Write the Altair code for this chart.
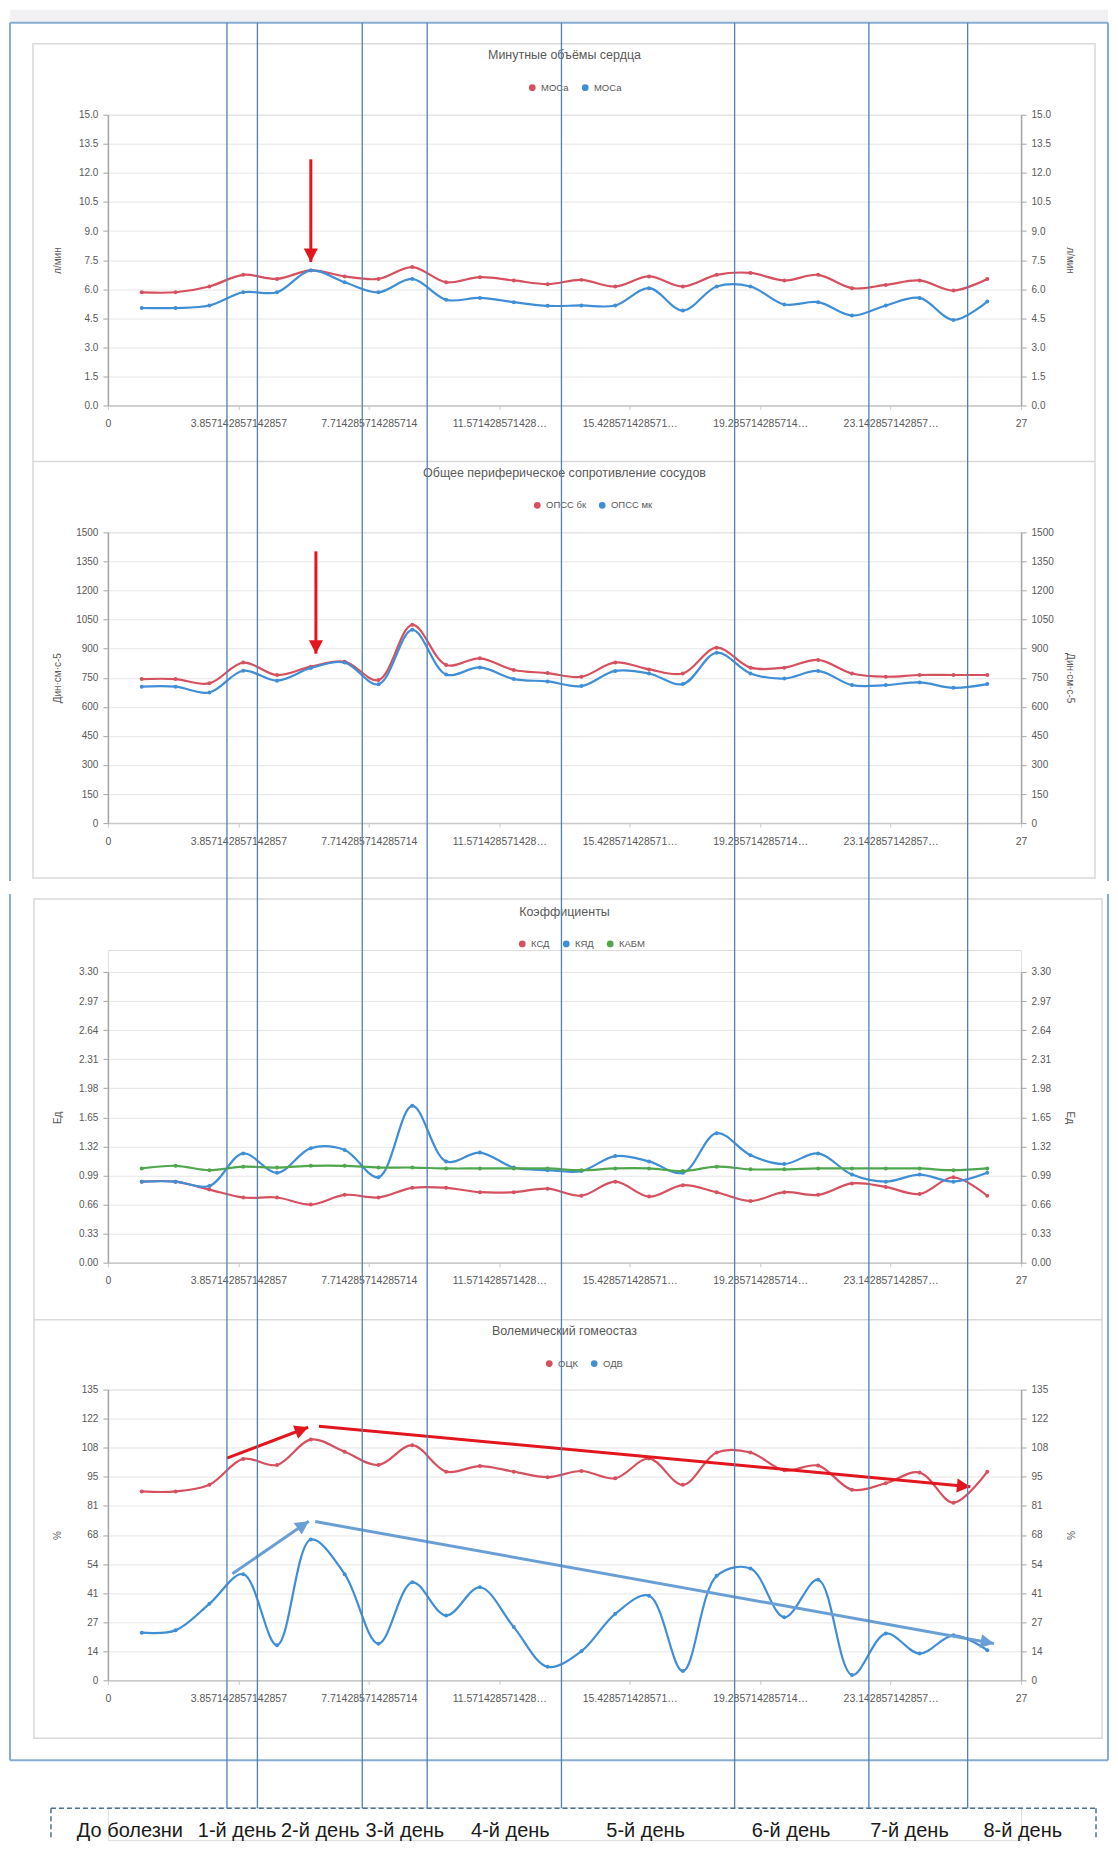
import math
import altair as alt
import pandas as pd

# ------------------------------------------------------------------ data
days = list(range(1, 27))

mos_names = ["МОСа#1", "МОСа#2"]
mos_1 = [5.84, 5.84, 6.14, 6.74, 6.53, 6.97, 6.66, 6.53, 7.14, 6.36, 6.62, 6.45, 6.26,
         6.48, 6.14, 6.66, 6.14, 6.74, 6.84, 6.45, 6.74, 6.05, 6.22, 6.45, 5.93, 6.53]
mos_2 = [5.03, 5.03, 5.16, 5.84, 5.84, 6.97, 6.36, 5.84, 6.53, 5.45, 5.55, 5.33, 5.14,
         5.16, 5.16, 6.05, 4.90, 6.14, 6.14, 5.21, 5.33, 4.64, 5.16, 5.55, 4.41, 5.36]

opss_names = ["ОПСС бк", "ОПСС мк"]
opss_bk = [743, 743, 721, 828, 764, 807, 833, 738, 1023, 816, 850, 790, 774,
           755, 829, 793, 772, 905, 802, 802, 842, 772, 755, 764, 764, 764]
opss_mk = [704, 704, 674, 786, 735, 800, 828, 716, 997, 767, 803, 743, 731,
           707, 785, 772, 717, 879, 772, 746, 785, 712, 712, 726, 698, 717]

k_names = ["КСД", "КЯД", "КАБМ"]
ksd = [0.92, 0.92, 0.83, 0.74, 0.74, 0.66, 0.77, 0.74, 0.85, 0.85, 0.80, 0.80, 0.84,
       0.76, 0.92, 0.75, 0.88, 0.80, 0.70, 0.80, 0.77, 0.90, 0.86, 0.78, 0.97, 0.76]
kyad = [0.92, 0.92, 0.87, 1.24, 1.02, 1.30, 1.28, 0.97, 1.78, 1.15, 1.25, 1.08, 1.05,
        1.04, 1.21, 1.15, 1.02, 1.47, 1.22, 1.12, 1.24, 1.00, 0.92, 1.00, 0.92, 1.02]
kabm = [1.07, 1.10, 1.05, 1.09, 1.08, 1.10, 1.10, 1.08, 1.08, 1.07, 1.07, 1.07, 1.07,
        1.05, 1.07, 1.07, 1.04, 1.09, 1.06, 1.06, 1.07, 1.07, 1.07, 1.07, 1.05, 1.07]

v_names = ["ОЦК", "ОДВ"]
ock = [87.7, 87.7, 90.8, 102.8, 100.0, 111.8, 106.1, 100.0, 109.2, 96.9, 99.5, 96.9, 94.3,
       97.2, 93.8, 103.0, 90.8, 105.8, 105.8, 97.5, 99.7, 88.5, 91.5, 96.5, 82.5, 96.9]
odv = [22.1, 23.2, 35.5, 49.3, 16.3, 65.4, 49.3, 17.0, 45.5, 30.1, 43.2, 24.7, 6.3,
       13.5, 30.9, 39.3, 4.3, 48.5, 51.9, 29.3, 46.7, 2.5, 21.7, 12.4, 20.9, 14.0]

x_tick_values = [i * 27 / 7 for i in range(8)]
x_tick_labels = ["0", "3.857142857142857", "7.714285714285714", "11.571428571428…",
                 "15.428571428571…", "19.285714285714…", "23.142857142857…", "27"]
y_ticks_mos = [round(1.5 * i, 1) for i in range(11)]
y_ticks_opss = [150 * i for i in range(11)]
y_ticks_k = [round(0.33 * i, 2) for i in range(11)]
y_ticks_v = [13.5 * i for i in range(11)]

# annotation arrows (data units)
arrow_mos = {"x0": [6.0], "y0": [12.7], "x1": [6.0], "y1": [7.4]}
arrow_opss = {"x0": [6.15], "y0": [1402], "x1": [6.15], "y1": [874]}
arrow_v_red = {"x0": [3.52, 6.24], "y0": [103.2, 118.0], "x1": [5.92, 25.5], "y1": [117.5, 89.9]}
arrow_v_blue = {"x0": [3.68, 6.13], "y0": [49.5, 73.7], "x1": [5.94, 26.2], "y1": [73.9, 17.1]}

day_marks_x = [3.52, 4.42, 7.52, 9.44, 13.41, 18.53, 22.50, 25.42]
day_labels = ["До болезни", "1-й день", "2-й день", "3-й день", "4-й день",
              "5-й день", "6-й день", "7-й день", "8-й день"]
day_label_x = [0.65, 3.82, 6.28, 8.78, 11.9, 15.9, 20.2, 23.7, 27.05]

# ------------------------------------------------------------------ style / layout
FONT = "Liberation Sans"
TXT = "#595959"
AX = "#a6a6a6"
GRID = "#e6e6e6"
RED = "#d6505f"
BLUE = "#3f8ed6"
GREEN = "#4fa64d"
ARROW_RED = "#e3161e"
ARROW_BLUE = "#6a9fd6"
VLINE = "#4f81b5"
FRAME = "#86acd3"
CARD = "#d9d9d9"
DASH = "#4d6f94"

W = 914
H = 291
H3 = 313
P3_TOP = 22
SP = 127
PLOT_LEFT = 107
T1 = 113
T2 = T1 + H + SP
T3 = T2 + H + SP
T4 = T3 + H3 + SP
T5 = T4 + H + SP
H5 = 33
TITLE_OFF = 8

ARROW_PATH = "M0,0L-1,-1.9L1,-1.9Z"
x_scale = alt.Scale(domain=[0, 27], nice=False, zero=False)
label_expr = "[" + ",".join("'" + s + "'" for s in x_tick_labels) + "][round(datum.value * 7 / 27)]"


def long_df(names, series):
    rows = []
    for n, s in zip(names, series):
        for d, v in zip(days, s):
            rows.append({"x": d, "v": v, "series": n})
    return pd.DataFrame(rows)


def x_axis():
    return alt.Axis(values=x_tick_values, labelExpr=label_expr, grid=False,
                    domainColor="#c9c9c9", tickColor="#c9c9c9", tickSize=4, domainWidth=1.5,
                    labelPadding=9, labelFontSize=10.5, labelColor=TXT, labelFont=FONT,
                    labelLimit=400, labelOverlap=False, labelFlush=False, title=None)


def y_axis(orient, values, fmt, title, mid):
    kw = dict(orient=orient, values=values, format=fmt, domainColor=AX, tickColor=AX,
              tickSize=5, domainWidth=1.5, labelPadding=5, labelFontSize=10, labelColor=TXT,
              labelFont=FONT, title=title, titleFont=FONT, titleFontSize=10,
              titleFontWeight="normal", titleColor=TXT, titleY=mid, titleBaseline="middle")
    if orient == "left":
        kw.update(grid=True, gridColor=GRID, titleX=-50, titleAngle=270)
    else:
        kw.update(grid=False, titleX=48, titleAngle=90)
    return alt.Axis(**kw)


def arrow_layers(spec, ysc, color, ppy, size=200):
    d = pd.DataFrame(spec)
    ppx = W / 27
    d["ang"] = [round(math.degrees(math.atan2(-(b - a) * ppx, (c - e) * ppy)) % 360, 2)
                for a, b, e, c in zip(d["x0"], d["x1"], d["y1"], d["y0"])]
    rule = alt.Chart(d).mark_rule(color=color, strokeWidth=3).encode(
        x=alt.X("x0:Q", scale=x_scale, axis=x_axis()), x2="x1:Q",
        y=alt.Y("y0:Q", scale=ysc, axis=None), y2="y1:Q")
    head = alt.Chart(d).mark_point(shape=ARROW_PATH, filled=True, size=size, color=color,
                                   opacity=1, strokeWidth=0).encode(
        x=alt.X("x1:Q", scale=x_scale, axis=x_axis()),
        y=alt.Y("y1:Q", scale=ysc, axis=None),
        angle=alt.Angle("ang:Q", scale=None))
    return [rule, head]


def panel(names, series, colors, domain, yvals, yfmt, ytitle, title, lx, ly, h,
          yrange=None, legend_expr=None, arrows=()):
    df = long_df(names, series)
    skw = dict(domain=domain, nice=False, zero=False)
    if yrange:
        skw["range"] = yrange
        mid = (yrange[0] + yrange[1]) / 2
        span = yrange[0] - yrange[1]
    else:
        mid = h / 2
        span = h
    ppy = span / (domain[1] - domain[0])
    ysc = alt.Scale(**skw)
    lkw = dict(orient="none", legendX=lx, legendY=ly, direction="horizontal", title=None,
               symbolType="circle", symbolSize=14, symbolStrokeWidth=3, labelFontSize=9.5,
               labelFont=FONT, labelColor=TXT, columnPadding=7)
    if legend_expr:
        lkw["labelExpr"] = legend_expr
    cscale = alt.Scale(domain=names, range=colors)
    lines = alt.Chart(df).mark_line(interpolate="catmull-rom", strokeWidth=2.2).encode(
        x=alt.X("x:Q", scale=x_scale, axis=x_axis()),
        y=alt.Y("v:Q", scale=ysc, axis=y_axis("left", yvals, yfmt, ytitle, mid)),
        color=alt.Color("series:N", scale=cscale, legend=alt.Legend(**lkw)))
    pts = alt.Chart(df).mark_point(filled=True, size=16, opacity=1).encode(
        x=alt.X("x:Q", scale=x_scale, axis=x_axis()),
        y=alt.Y("v:Q", scale=ysc, axis=None),
        color=alt.Color("series:N", scale=cscale, legend=alt.Legend(**lkw)))
    extra = []
    for spec, col in arrows:
        extra += arrow_layers(spec, ysc, col, ppy)
    right = alt.Chart(df).mark_line(opacity=0).encode(
        x=alt.X("x:Q", scale=x_scale, axis=x_axis()),
        y=alt.Y("v:Q", scale=ysc, axis=y_axis("right", yvals, yfmt, ytitle, mid)),
        detail="series:N")
    return alt.layer(lines, pts, *extra, right).resolve_scale(y="independent").properties(
        width=W, height=h,
        title=alt.TitleParams(text=title, fontSize=12.5, fontWeight="normal", color=TXT,
                              font=FONT, anchor="middle", frame="group", offset=TITLE_OFF,
                              baseline="bottom"))


p1 = panel(mos_names, [mos_1, mos_2], [RED, BLUE], [0, 15], y_ticks_mos, ".1f", "л/мин",
           "Минутные объёмы сердца", 420, -32, H,
           legend_expr="split(datum.label, '#')[0]", arrows=[(arrow_mos, ARROW_RED)])
p2 = panel(opss_names, [opss_bk, opss_mk], [RED, BLUE], [0, 1500], y_ticks_opss, "d",
           "Дин·см·с-5", "Общее периферическое сопротивление сосудов", 425, -32, H,
           arrows=[(arrow_opss, ARROW_RED)])
p3 = panel(k_names, [ksd, kyad, kabm], [RED, BLUE, GREEN], [0, 3.3], y_ticks_k, ".2f", "Ед",
           "Коэффициенты", 410, P3_TOP - 33, H3, yrange=[H3, P3_TOP])
p4 = panel(v_names, [ock, odv], [RED, BLUE], [0, 135], y_ticks_v, ".0f", "%",
           "Волемический гомеостаз", 437, -31, H,
           arrows=[(arrow_v_red, ARROW_RED), (arrow_v_blue, ARROW_BLUE)])

# ------------------------------------------------------------------ bottom cell with page decorations
one = pd.DataFrame({"k": [0]})


def rx(X):
    return X - PLOT_LEFT


def ry(Y):
    return Y - T5


def vrule(X, Y1, Y2, color, width, dash=None):
    kw = dict(color=color, strokeWidth=width)
    if dash:
        kw["strokeDash"] = dash
    return alt.Chart(one).mark_rule(**kw).encode(
        x=alt.value(rx(X)), y=alt.value(ry(Y1)), y2=alt.value(ry(Y2)))


def hrule(X1, X2, Y, color, width, dash=None):
    kw = dict(color=color, strokeWidth=width)
    if dash:
        kw["strokeDash"] = dash
    return alt.Chart(one).mark_rule(**kw).encode(
        x=alt.value(rx(X1)), x2=alt.value(rx(X2)), y=alt.value(ry(Y)))


def box(X1, X2, Y1, Y2, stroke, width):
    return alt.Chart(one).mark_rect(fillOpacity=0, stroke=stroke, strokeWidth=width).encode(
        x=alt.value(rx(X1)), x2=alt.value(rx(X2)), y=alt.value(ry(Y1)), y2=alt.value(ry(Y2)))


band = alt.Chart(one).mark_rect(color="#f1f1f4").encode(
    x=alt.value(rx(9)), x2=alt.value(rx(1108)), y=alt.value(ry(8)), y2=alt.value(ry(21)))

decor = [
    band,
    box(32, 1095, 42, 877, CARD, 1.5), hrule(32, 1095, 460, CARD, 1.5),
    box(33, 1102, 898, 1738, CARD, 1.5), hrule(33, 1102, 1319, CARD, 1.5),
    hrule(9, 1108, 21, FRAME, 2), vrule(9, 21, 880, FRAME, 2), vrule(1108, 21, 880, FRAME, 2),
    vrule(9, 893, 1760, FRAME, 2), vrule(1108, 893, 1760, FRAME, 2), hrule(9, 1108, 1760, FRAME, 2),
    hrule(50, 1096, 1808, DASH, 1.5, [5, 3]), vrule(50, 1808, 1840, DASH, 1.5, [5, 3]),
    vrule(1096, 1808, 1840, DASH, 1.5, [5, 3]),
]

vlines = alt.Chart(pd.DataFrame({"x": day_marks_x})).mark_rule(color=VLINE, strokeWidth=1.3).encode(
    x=alt.X("x:Q", scale=x_scale, axis=None), y=alt.value(ry(21)), y2=alt.value(ry(1808)))

labels = alt.Chart(pd.DataFrame({"x": day_label_x, "label": day_labels})).mark_text(
    font=FONT, fontSize=20, color="#1a1a1a", baseline="middle", align="center").encode(
    x=alt.X("x:Q", scale=x_scale, axis=None), y=alt.value(24), text="label:N")

p5 = alt.layer(*decor, vlines, labels).properties(width=W, height=H5)

chart = alt.vconcat(p1, p2, p3, p4, p5, spacing=SP, bounds="flush").resolve_scale(
    x="independent", y="independent", color="independent").resolve_legend(
    color="independent").properties(
    padding={"left": 0, "top": 0, "right": 0, "bottom": 0}).configure_view(
    strokeWidth=0).configure(font=FONT, background="white")

chart.save("out.html", embed_options={"renderer": "svg", "actions": False})
